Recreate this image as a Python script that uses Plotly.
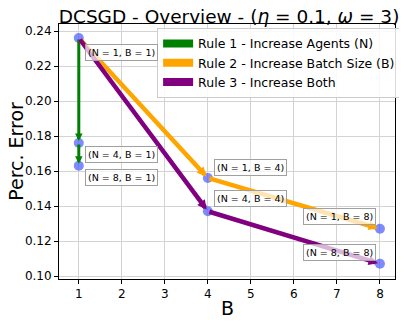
import plotly.graph_objects as go

# Data
rule_names = ["Rule 1 - Increase Agents (N)",
              "Rule 2 - Increase Batch Size (B)",
              "Rule 3 - Increase Both"]
rule_colors = ["green", "orange", "purple"]
rule1_B = [1, 1, 1]
rule1_err = [0.236, 0.176, 0.163]
rule2_B = [1, 4, 8]
rule2_err = [0.236, 0.156, 0.127]
rule3_B = [1, 4, 8]
rule3_err = [0.236, 0.137, 0.107]

point_B = [1, 1, 1, 4, 4, 8, 8]
point_err = [0.236, 0.176, 0.163, 0.156, 0.137, 0.127, 0.107]
point_labels = ["(N = 1, B = 1)", "(N = 4, B = 1)", "(N = 8, B = 1)",
                "(N = 1, B = 4)", "(N = 4, B = 4)",
                "(N = 1, B = 8)", "(N = 8, B = 8)"]

x_ticks = [1, 2, 3, 4, 5, 6, 7, 8]
y_ticks = [0.10, 0.12, 0.14, 0.16, 0.18, 0.20, 0.22, 0.24]

# label placement styles (anchor, xshift, yshift)
label_style = [("left", 6, -14), ("left", 6, -11), ("left", 6, -12),
               ("left", 6, 11), ("left", 6, 13),
               ("right", -4, 12), ("right", -4, 11)]

fig = go.Figure()

rules = [(rule1_B, rule1_err), (rule2_B, rule2_err), (rule3_B, rule3_err)]
widths = [3, 4.5, 4.5]

# legend entries
for name, col in zip(rule_names, rule_colors):
    fig.add_trace(go.Scatter(x=[None], y=[None], mode="lines", name=name,
                             line=dict(color=col, width=8)))

# markers
fig.add_trace(go.Scatter(x=point_B, y=point_err, mode="markers", showlegend=False,
                         marker=dict(size=10, color="rgba(70,90,255,0.7)")))

annotations = []
for (bs, es), col, w in zip(rules, rule_colors, widths):
    for i in range(len(bs) - 1):
        annotations.append(dict(
            x=bs[i + 1], y=es[i + 1], ax=bs[i], ay=es[i],
            xref="x", yref="y", axref="x", ayref="y",
            showarrow=True, arrowcolor=col, arrowwidth=w,
            arrowhead=2, arrowsize=0.42 if w > 3 else 0.5, standoff=2, text=""))

for b, e, lab, (anc, xs, ys) in zip(point_B, point_err, point_labels, label_style):
    annotations.append(dict(
        x=b, y=e, xref="x", yref="y", text=lab, showarrow=False,
        xanchor=anc, yanchor="middle", xshift=xs, yshift=ys,
        font=dict(family="DejaVu Sans", size=9.5, color="black"),
        bgcolor="rgba(255,255,255,0.7)", bordercolor="#a0a0a0",
        borderwidth=1, borderpad=2))

# axis titles as paper annotations
annotations.append(dict(text="B", x=0.5, y=-0.114, xref="paper", yref="paper",
                        xanchor="center", yanchor="middle", showarrow=False,
                        font=dict(size=19)))
annotations.append(dict(text="Perc. Error", x=-0.13, y=0.5, xref="paper", yref="paper",
                        xanchor="center", yanchor="middle", showarrow=False,
                        textangle=-90, font=dict(size=19)))

fig.update_layout(
    width=399, height=316,
    margin=dict(l=51, r=6, t=16, b=45),
    paper_bgcolor="white", plot_bgcolor="white",
    font=dict(family="DejaVu Sans", size=12, color="black"),
    title=dict(text="DCSGD - Overview - (<i>η</i> = 0.1, <i>ω</i> = 3)",
               x=0.554, xanchor="center", y=0.972, yanchor="middle",
               font=dict(size=18.5)),
    annotations=annotations,
    legend=dict(x=0.292, y=0.985, xanchor="left", yanchor="top",
                bgcolor="rgba(255,255,255,0.85)", bordercolor="#cccccc",
                borderwidth=1, font=dict(size=12.5), tracegroupgap=0,
                itemwidth=30),
    xaxis=dict(range=[0.54, 8.35], tickvals=x_ticks, automargin=False,
               showline=True, mirror=True, linecolor="black", linewidth=1,
               ticks="outside", ticklen=4, tickcolor="black",
               showgrid=True, gridcolor="#d3d3d3", gridwidth=1, zeroline=False),
    yaxis=dict(range=[0.0983, 0.244], tickvals=y_ticks, tickformat=".2f",
               automargin=False,
               showline=True, mirror=True, linecolor="black", linewidth=1,
               ticks="outside", ticklen=4, tickcolor="black",
               showgrid=True, gridcolor="#d3d3d3", gridwidth=1, zeroline=False),
)

fig.write_html("out.html")
